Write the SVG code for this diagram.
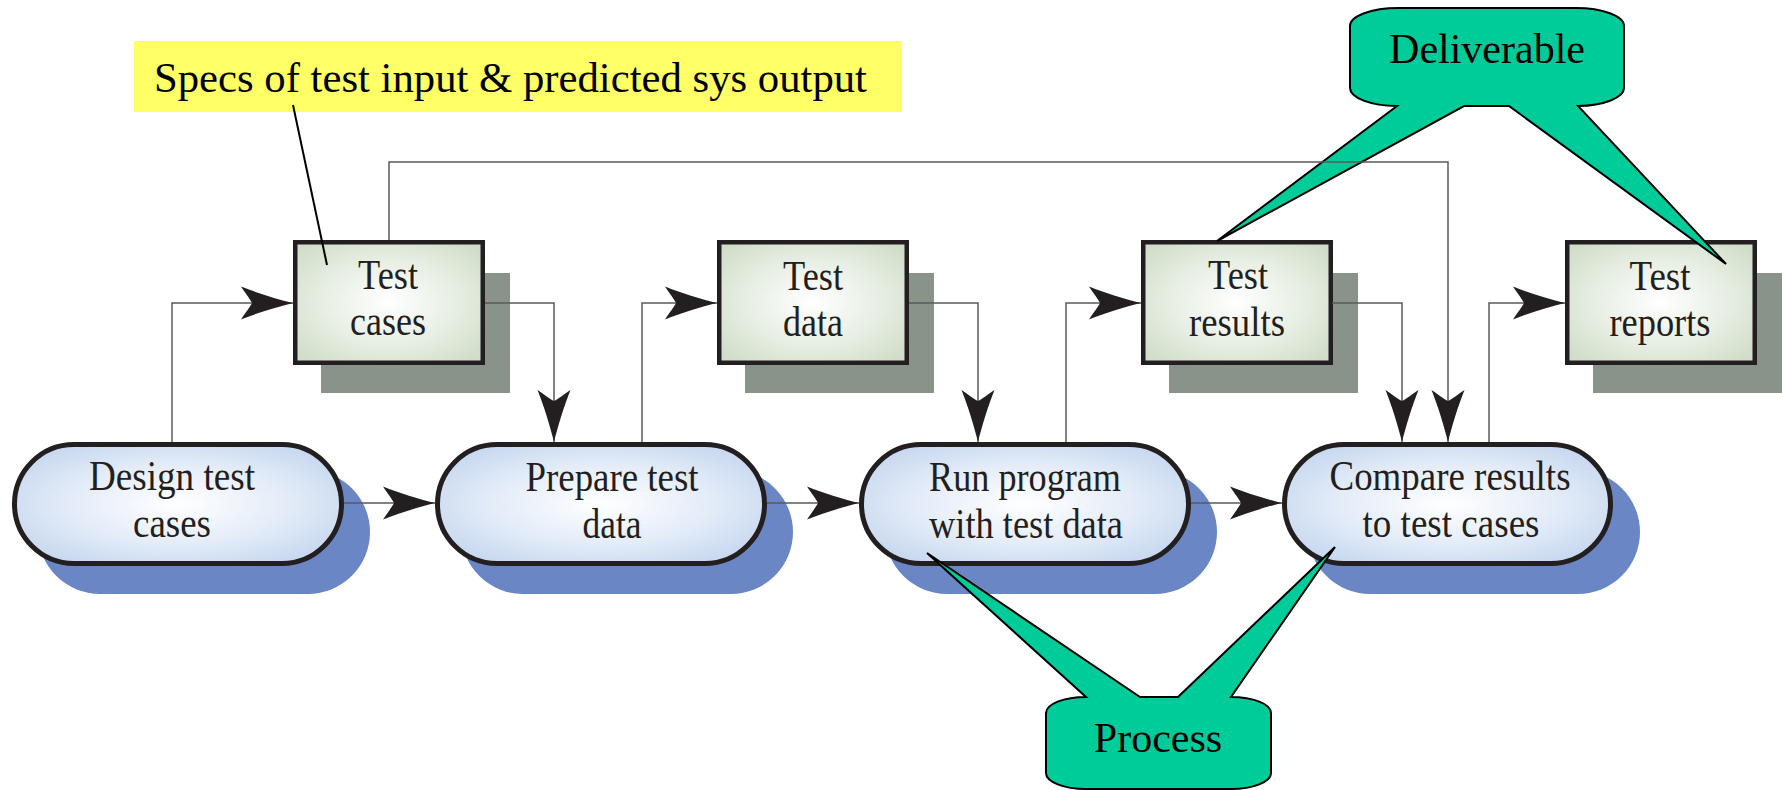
<svg xmlns="http://www.w3.org/2000/svg" width="1782" height="790" viewBox="0 0 1782 790">
  <defs>
    <style>
      .ink { fill: #231f20; }
      .node-text { font-family: "Liberation Serif", "Times New Roman", serif; font-size: 42px; fill: #231f20; text-anchor: middle; }
      .call-text { font-family: "Liberation Serif", "Times New Roman", serif; font-size: 42px; fill: #000; text-anchor: middle; }
      .box { fill: url(#boxFill); stroke: #231f20; stroke-width: 4.5; }
      .box-shadow { fill: #8a9389; }
      .oval { fill: url(#ovalFill); stroke: #231f20; stroke-width: 5; }
      .oval-shadow { fill: #6a86c4; }
      .callout { fill: #00cc99; stroke: #000; stroke-width: 2; stroke-linejoin: miter; }
      .conn { fill: none; stroke: #58595b; stroke-width: 1.5; marker-end: url(#barb); }
    </style>
    <radialGradient id="boxFill" cx="50%" cy="50%" r="65%">
      <stop offset="0%" stop-color="#ffffff"/>
      <stop offset="55%" stop-color="#e7eee3"/>
      <stop offset="100%" stop-color="#d0ddc8"/>
    </radialGradient>
    <radialGradient id="ovalFill" cx="50%" cy="50%" r="60%">
      <stop offset="0%" stop-color="#ffffff"/>
      <stop offset="55%" stop-color="#e4ecf8"/>
      <stop offset="100%" stop-color="#c6d7ef"/>
    </radialGradient>
    <!-- barbed arrowhead, tip at the path end -->
    <marker id="barb" markerUnits="userSpaceOnUse" viewBox="-56 -18 58 36" markerWidth="58" markerHeight="36" refX="0" refY="0" orient="auto">
      <path class="ink" d="M0,0 C-16,-4 -36,-10 -52,-16.5 C-47,-9 -43,-4 -41,0 C-43,4 -47,9 -52,16.5 C-36,10 -16,4 0,0 Z"/>
    </marker>
  </defs>

  <rect width="1782" height="790" fill="#ffffff"/>

  <!-- process steps -->
  <g id="node-design">
    <rect class="oval-shadow" x="38" y="470" width="332" height="124" rx="62"/>
    <rect class="oval" x="14.5" y="444.5" width="327" height="119" rx="59.5"/>
    <text class="node-text" x="172" y="490" textLength="166" lengthAdjust="spacingAndGlyphs">Design test</text>
    <text class="node-text" x="172" y="537" textLength="78" lengthAdjust="spacingAndGlyphs">cases</text>
  </g>
  <g id="node-prepare">
    <rect class="oval-shadow" x="461" y="470" width="332" height="124" rx="62"/>
    <rect class="oval" x="437.5" y="444.5" width="327" height="119" rx="59.5"/>
    <text class="node-text" x="612" y="491" textLength="173" lengthAdjust="spacingAndGlyphs">Prepare test</text>
    <text class="node-text" x="612" y="538" textLength="59" lengthAdjust="spacingAndGlyphs">data</text>
  </g>
  <g id="node-run">
    <rect class="oval-shadow" x="885" y="470" width="332" height="124" rx="62"/>
    <rect class="oval" x="861.5" y="444.5" width="327" height="119" rx="59.5"/>
    <text class="node-text" x="1025" y="491" textLength="192" lengthAdjust="spacingAndGlyphs">Run program</text>
    <text class="node-text" x="1026" y="538" textLength="194" lengthAdjust="spacingAndGlyphs">with test data</text>
  </g>
  <g id="node-compare">
    <rect class="oval-shadow" x="1308" y="470" width="332" height="124" rx="62"/>
    <rect class="oval" x="1284.5" y="444.5" width="326" height="119" rx="59.5"/>
    <text class="node-text" x="1450" y="490" textLength="241" lengthAdjust="spacingAndGlyphs">Compare results</text>
    <text class="node-text" x="1451" y="537" textLength="177" lengthAdjust="spacingAndGlyphs">to test cases</text>
  </g>

  <!-- deliverables -->
  <g id="node-test-cases">
    <rect class="box-shadow" x="321" y="273" width="189" height="120"/>
    <rect class="box" x="295.25" y="242.25" width="187.5" height="120.5"/>
    <text class="node-text" x="388" y="289" textLength="60" lengthAdjust="spacingAndGlyphs">Test</text>
    <text class="node-text" x="388" y="335" textLength="76" lengthAdjust="spacingAndGlyphs">cases</text>
  </g>
  <g id="node-test-data">
    <rect class="box-shadow" x="745" y="273" width="189" height="120"/>
    <rect class="box" x="719.25" y="242.25" width="187.5" height="120.5"/>
    <text class="node-text" x="813" y="290" textLength="60" lengthAdjust="spacingAndGlyphs">Test</text>
    <text class="node-text" x="813" y="336" textLength="60" lengthAdjust="spacingAndGlyphs">data</text>
  </g>
  <g id="node-test-results">
    <rect class="box-shadow" x="1169" y="273" width="189" height="120"/>
    <rect class="box" x="1143.25" y="242.25" width="187.5" height="120.5"/>
    <text class="node-text" x="1238" y="289" textLength="60" lengthAdjust="spacingAndGlyphs">Test</text>
    <text class="node-text" x="1237" y="336" textLength="96" lengthAdjust="spacingAndGlyphs">results</text>
  </g>
  <g id="node-test-reports">
    <rect class="box-shadow" x="1593" y="273" width="189" height="120"/>
    <rect class="box" x="1567.25" y="242.25" width="187.5" height="120.5"/>
    <text class="node-text" x="1660" y="290" textLength="61" lengthAdjust="spacingAndGlyphs">Test</text>
    <text class="node-text" x="1660" y="336" textLength="101" lengthAdjust="spacingAndGlyphs">reports</text>
  </g>

  <!-- note on the test cases -->
  <g id="note-specs">
    <rect x="134" y="41" width="768" height="71" fill="#ffff66"/>
    <text x="154" y="92" font-family="Liberation Serif, Times New Roman, serif" font-size="43" fill="#000" textLength="713" lengthAdjust="spacingAndGlyphs">Specs of test input &amp; predicted sys output</text>
    <line x1="293" y1="105" x2="327" y2="265" stroke="#000" stroke-width="2"/>
  </g>

  <!-- speech-bubble labels -->
  <g id="callout-deliverable">
    <path class="callout" d="M1350,26 A48,18 0 0 1 1398,8 L1576,8 A48,18 0 0 1 1624,26 L1624,88 A48,18 0 0 1 1578,106 L1726,264 L1509,106 L1464,106 L1217,241 L1397,106 A48,18 0 0 1 1350,88 Z"/>
    <text class="call-text" x="1487" y="63">Deliverable</text>
  </g>
  <g id="callout-process">
    <path class="callout" d="M1046,713 A40,16 0 0 1 1086,697 L927,553 L1140,697 L1178,697 L1335,547 L1231,697 A40,16 0 0 1 1271,713 L1271,773 A40,16 0 0 1 1231,789 L1086,789 A40,16 0 0 1 1046,773 Z"/>
    <text class="call-text" x="1158" y="752">Process</text>
  </g>

  <!-- flow connectors -->
  <g id="connectors">
    <path class="conn" d="M172,442 V303 H293"/>
    <path class="conn" d="M485,303 H554 V442"/>
    <path class="conn" d="M642,442 V303 H717"/>
    <path class="conn" d="M909,303 H978 V442"/>
    <path class="conn" d="M1066,442 V303 H1141"/>
    <path class="conn" d="M1332,303 H1402 V442"/>
    <path class="conn" d="M1489,442 V303 H1565"/>
    <path class="conn" d="M389,240 V162 H1448 V442"/>
    <path class="conn" d="M344,503 H435"/>
    <path class="conn" d="M767,503 H859"/>
    <path class="conn" d="M1191,503 H1282"/>
  </g>
</svg>
